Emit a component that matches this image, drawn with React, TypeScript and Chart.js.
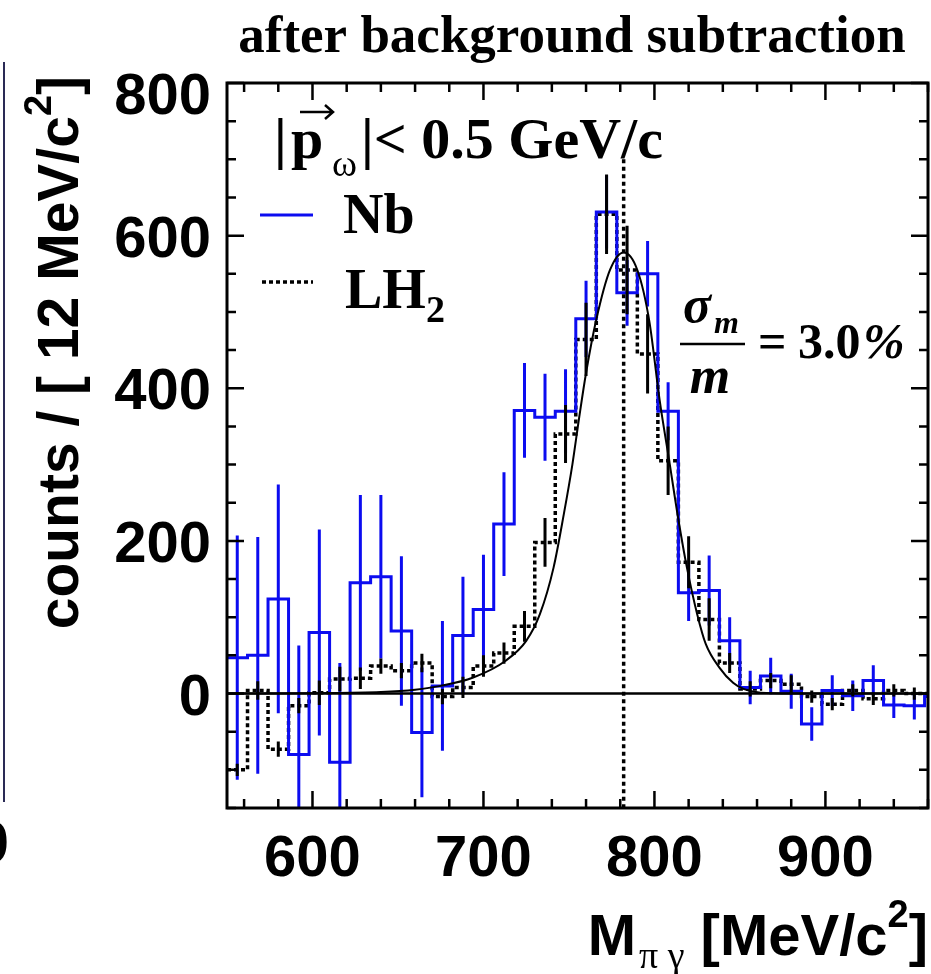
import React, { useEffect, useRef } from "react";
import { Chart, registerables } from "chart.js";

Chart.register(...registerables);

// ---------- data ----------
const binCenters = [556, 568, 580, 592, 604, 616, 628, 640, 652, 664, 676, 688, 700, 712, 724, 736, 748, 760, 772, 784, 796, 808, 820, 832, 844, 856, 868, 880, 892, 904, 916, 928, 940, 952, 964];
const binWidth = 12;

const nbCounts = [47, 50, 124, -80, 80, -90, 145, 153, 82, -51, 10, 76, 110, 222, 371, 362, 370, 491, 631, 525, 550, 370, 132, 135, 69, 8, 23, 3, -40, 4, -3, 17, -15, -16, -4];
const nbErrors = [160, 155, 150, 143, 135, 130, 115, 107, 98, 85, 85, 77, 72, 68, 62, 57, 55, 50, 48, 43, 43, 38, 37, 46, 31, 22, 24, 23, 22, 20, 20, 20, 17, 18, 18];

const lh2Counts = [-100, 4, -73, -16, 1, 19, 20, 36, 30, 40, -4, 8, 36, 53, 88, 198, 340, 464, 628, 555, 445, 305, 172, 97, 40, 6, 17, 12, -4, -14, 4, -7, 4, 0, 0];
const lh2Errors = [8, 12, 10, 10, 16, 16, 14, 10, 10, 12, 10, 14, 14, 14, 20, 32, 38, 48, 52, 58, 52, 45, 34, 28, 13, 10, 10, 12, 8, 8, 8, 8, 8, 8, 8];

const fitMass = [550, 600, 640, 660, 675, 694, 713, 725, 733, 741, 747, 752, 756, 760, 766, 774, 782, 790, 797, 803, 809, 814, 819, 825, 830, 838, 846, 852, 862, 880, 960];
const fitCounts = [0, 0.5, 2, 5, 10, 21, 43, 69, 104, 165, 235, 300, 362, 420, 490, 555, 578, 555, 488, 385, 300, 228, 165, 104, 65, 34, 14, 6, 1, 0, 0];

const omegaMass = 782;
const omegaLineSpan = [700, -150];
const zeroLineSpan = [550, 960];

const xRange = [550, 960];
const yRange = [-150, 800];
const xTickLabels = [600, 700, 800, 900];
const yTickLabels = [0, 200, 400, 600, 800];
const xMinorStep = 20;
const yMinorStep = 50;

// ---------- helpers ----------
const BLUE = "rgb(12,12,240)";
const SANS = '"Liberation Sans", Arial, sans-serif';
const SERIF = '"Liberation Serif", "Times New Roman", serif';

function histPoints(counts: number[]) {
  const pts = counts.map((v, i) => ({ x: binCenters[i] - binWidth / 2, y: v }));
  const last = counts.length - 1;
  pts.push({ x: binCenters[last] + binWidth / 2, y: counts[last] });
  return pts;
}

function errPoints(counts: number[], errs: number[]) {
  const pts: { x: number; y: number | null }[] = [];
  counts.forEach((v, i) => {
    pts.push({ x: binCenters[i], y: v - errs[i] });
    pts.push({ x: binCenters[i], y: v + errs[i] });
    pts.push({ x: binCenters[i], y: null });
  });
  return pts;
}

function txt(ctx: CanvasRenderingContext2D, s: string, x: number, y: number, font: string, align: CanvasTextAlign = "left") {
  ctx.font = font;
  ctx.textAlign = align;
  ctx.textBaseline = "alphabetic";
  ctx.fillText(s, x, y);
  return ctx.measureText(s).width;
}

function measure(ctx: CanvasRenderingContext2D, s: string, font: string) {
  ctx.font = font;
  return ctx.measureText(s).width;
}

const framePlugin = {
  id: "rootFrame",
  afterDatasetsDraw(chart: any) {
    const ctx: CanvasRenderingContext2D = chart.ctx;
    const { left, right, top, bottom } = chart.chartArea;
    const xs = chart.scales.x;
    const ys = chart.scales.y;
    ctx.save();
    ctx.strokeStyle = "#000";
    ctx.lineCap = "butt";
    ctx.lineWidth = 2.5;
    const majorLen = 17;
    const minorLen = 9;
    for (let v = Math.ceil(xRange[0] / xMinorStep) * xMinorStep; v <= xRange[1]; v += xMinorStep) {
      const px = xs.getPixelForValue(v);
      const len = xTickLabels.includes(v) ? majorLen : minorLen;
      ctx.beginPath();
      ctx.moveTo(px, bottom);
      ctx.lineTo(px, bottom - len);
      ctx.moveTo(px, top);
      ctx.lineTo(px, top + len);
      ctx.stroke();
    }
    for (let v = Math.ceil(yRange[0] / yMinorStep) * yMinorStep; v <= yRange[1]; v += yMinorStep) {
      const py = ys.getPixelForValue(v);
      const len = yTickLabels.includes(v) ? majorLen : minorLen;
      ctx.beginPath();
      ctx.moveTo(left, py);
      ctx.lineTo(left + len, py);
      ctx.moveTo(right, py);
      ctx.lineTo(right - len, py);
      ctx.stroke();
    }
    ctx.lineWidth = 3;
    ctx.strokeRect(left, top, right - left, bottom - top);
    ctx.restore();
  },
  afterDraw(chart: any) {
    const ctx: CanvasRenderingContext2D = chart.ctx;
    const { left, top, bottom, right } = chart.chartArea;
    const xs = chart.scales.x;
    const ys = chart.scales.y;
    ctx.save();
    ctx.fillStyle = "#000";

    // tick labels
    const tickFont = `bold 58px ${SANS}`;
    xTickLabels.forEach((v) => {
      txt(ctx, String(v), xs.getPixelForValue(v), bottom + 68, tickFont, "center");
    });
    yTickLabels.forEach((v) => {
      const cy = Math.max(ys.getPixelForValue(v), top + 10);
      txt(ctx, String(v), left - 16, cy + 21, tickFont, "right");
    });

    // title
    txt(ctx, "after background subtraction", 572, 52, `bold 53px ${SERIF}`, "center");

    // x axis title, right aligned to the frame
    {
      const fM = `bold 58px ${SANS}`;
      const fSub = `38px ${SERIF}`;
      const fSup = `bold 38px ${SANS}`;
      const wM = measure(ctx, "M", fM);
      const wSub = measure(ctx, "\u03c0 \u03b3", fSub);
      const wMain = measure(ctx, " [MeV/c", fM);
      const wSup = measure(ctx, "2", fSup);
      const wB = measure(ctx, "]", fM);
      const total = wM + 3 + wSub + wMain + wSup + wB;
      let x = right - total;
      const base = 955;
      x += txt(ctx, "M", x, base, fM) + 3;
      x += txt(ctx, "\u03c0 \u03b3", x, base + 13, fSub);
      x += txt(ctx, " [MeV/c", x, base, fM);
      x += txt(ctx, "2", x, base - 28, fSup);
      txt(ctx, "]", x, base, fM);
    }

    // y axis title (rotated), right aligned to the top
    {
      const fMain = `bold 57px ${SANS}`;
      const fSup = `bold 38px ${SANS}`;
      const main = "counts / [ 12 MeV/c";
      const w1 = measure(ctx, main, fMain);
      const w2 = measure(ctx, "2", fSup);
      const w3 = measure(ctx, "]", fMain);
      const W = w1 + w2 + w3;
      ctx.save();
      ctx.translate(78, 76 + W);
      ctx.rotate(-Math.PI / 2);
      txt(ctx, main, 0, 0, fMain);
      txt(ctx, "2", w1, -27, fSup);
      txt(ctx, "]", w1 + w2, 0, fMain);
      ctx.restore();
    }

    // momentum cut text
    {
      const fB = `bold 58px ${SERIF}`;
      txt(ctx, "|", 274, 158, fB);
      txt(ctx, "p", 291, 158, fB);
      ctx.strokeStyle = "#000";
      ctx.lineWidth = 2.5;
      ctx.beginPath();
      ctx.moveTo(300, 112);
      ctx.lineTo(333, 112);
      ctx.moveTo(325, 105);
      ctx.lineTo(333, 112);
      ctx.lineTo(325, 119);
      ctx.stroke();
      txt(ctx, "\u03c9", 332, 176, `38px ${SERIF}`);
      txt(ctx, "|< 0.5 GeV/c", 361, 158, fB);
    }

    // legend
    {
      ctx.lineWidth = 3;
      ctx.strokeStyle = BLUE;
      ctx.beginPath();
      ctx.moveTo(260, 215);
      ctx.lineTo(313, 215);
      ctx.stroke();
      txt(ctx, "Nb", 343, 233, `bold 56px ${SERIF}`);
      ctx.strokeStyle = "#000";
      ctx.lineWidth = 3.5;
      ctx.setLineDash([4, 3]);
      ctx.beginPath();
      ctx.moveTo(262, 282);
      ctx.lineTo(313, 282);
      ctx.stroke();
      ctx.setLineDash([]);
      const wLH = txt(ctx, "LH", 345, 308, `bold 56px ${SERIF}`);
      txt(ctx, "2", 345 + wLH, 322, `bold 38px ${SERIF}`);
    }

    // resolution annotation
    {
      const fI = `italic bold 52px ${SERIF}`;
      txt(ctx, "\u03c3", 683, 322, fI);
      txt(ctx, "m", 714, 333, `italic bold 32px ${SERIF}`);
      ctx.strokeStyle = "#000";
      ctx.lineWidth = 2.5;
      ctx.beginPath();
      ctx.moveTo(680, 344);
      ctx.lineTo(745, 344);
      ctx.stroke();
      txt(ctx, "m", 710, 393, fI, "center");
      txt(ctx, "=", 758, 358, `bold 50px ${SERIF}`);
      txt(ctx, "3.0", 798, 358, `bold 50px ${SERIF}`);
      txt(ctx, "%", 863, 358, `italic bold 50px ${SERIF}`);
    }

    // neighbouring-panel remnants at the left edge
    ctx.strokeStyle = "#2a2a55";
    ctx.lineWidth = 2;
    ctx.beginPath();
    ctx.moveTo(4, 62);
    ctx.lineTo(4, 802);
    ctx.stroke();
    txt(ctx, "0", 9, 862, tickFont, "right");

    ctx.restore();
  },
};

export default function App() {
  const ref = useRef<HTMLCanvasElement | null>(null);

  useEffect(() => {
    document.body.style.margin = "0";
    const canvas = ref.current;
    if (!canvas) return;
    const chart = new Chart(canvas, {
      type: "scatter",
      data: {
        datasets: [
          {
            label: "omega mass",
            data: [
              { x: omegaMass, y: omegaLineSpan[0] },
              { x: omegaMass, y: omegaLineSpan[1] },
            ],
            showLine: true,
            borderColor: "#000",
            borderWidth: 3.5,
            borderDash: [4, 3.5],
            pointRadius: 0,
            order: 1,
          },
          {
            label: "fit",
            data: fitMass.map((m, i) => ({ x: m, y: fitCounts[i] })),
            showLine: true,
            borderColor: "#000",
            borderWidth: 2,
            cubicInterpolationMode: "monotone",
            pointRadius: 0,
            order: 2,
          },
          {
            label: "zero",
            data: zeroLineSpan.map((m) => ({ x: m, y: 0 })),
            showLine: true,
            borderColor: "#000",
            borderWidth: 2.5,
            pointRadius: 0,
            order: 3,
          },
          {
            label: "LH2 errors",
            data: errPoints(lh2Counts, lh2Errors),
            showLine: true,
            spanGaps: false,
            borderColor: "#000",
            borderWidth: 3,
            pointRadius: 0,
            order: 4,
          },
          {
            label: "Nb errors",
            data: errPoints(nbCounts, nbErrors),
            showLine: true,
            spanGaps: false,
            borderColor: BLUE,
            borderWidth: 3,
            pointRadius: 0,
            order: 5,
          },
          {
            label: "Nb",
            data: histPoints(nbCounts),
            showLine: true,
            stepped: "before",
            borderColor: BLUE,
            borderWidth: 3,
            pointRadius: 0,
            order: 6,
          },
          {
            label: "LH2",
            data: histPoints(lh2Counts),
            showLine: true,
            stepped: "before",
            borderColor: "#000",
            borderWidth: 3.5,
            borderDash: [4, 3],
            pointRadius: 0,
            order: 7,
          },
        ],
      } as any,
      options: {
        responsive: false,
        animation: false,
        devicePixelRatio: 1,
        layout: { padding: { left: 227, top: 83, right: 3, bottom: 166 } },
        plugins: {
          legend: { display: false },
          tooltip: { enabled: false },
          title: { display: false },
        },
        scales: {
          x: { type: "linear", min: xRange[0], max: xRange[1], display: false },
          y: { type: "linear", min: yRange[0], max: yRange[1], display: false },
        },
      } as any,
      plugins: [framePlugin],
    });
    return () => chart.destroy();
  }, []);

  return (
    <div style={{ width: 931, height: 974, background: "#fff" }}>
      <canvas ref={ref} width={931} height={974} style={{ display: "block" }} />
    </div>
  );
}
